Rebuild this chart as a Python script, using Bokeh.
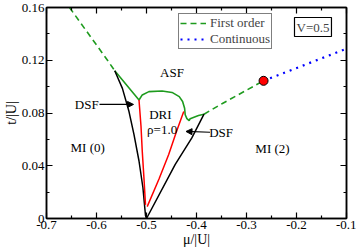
from bokeh.plotting import figure
from bokeh.models import (LinearAxis, FixedTicker, Range1d, Legend, LegendItem, Label,
                          Arrow, NormalHead)
from bokeh.core.properties import value
from bokeh.embed import file_html
from bokeh.resources import INLINE

# ---- data ----
first_order_left_x = [-0.654, -0.578, -0.5635]
first_order_left_y = [0.160, 0.120, 0.112]

asf_boundary_x = [-0.5635, -0.515, -0.5085, -0.4952, -0.4688, -0.4489, -0.4345, -0.4278,
                  -0.4238, -0.4226, -0.4192, -0.4147, -0.4127, -0.396, -0.385]
asf_boundary_y = [0.112, 0.0899, 0.0937, 0.0962, 0.0967, 0.0956, 0.0924, 0.0887,
                  0.0836, 0.0787, 0.0757, 0.0742, 0.0757, 0.0781, 0.0791]

first_order_right_x = [-0.385, -0.3472, -0.2659]
first_order_right_y = [0.0791, 0.0874, 0.1044]

continuous_x = [-0.2659, -0.1686, -0.1]
continuous_y = [0.1044, 0.1187, 0.1287]

tricritical_x = [-0.2659]
tricritical_y = [0.1044]

mi_left_x = [-0.5635, -0.5482, -0.535, -0.525, -0.515, -0.5072, -0.502, -0.5]
mi_left_y = [0.112, 0.0987, 0.0811, 0.0636, 0.0436, 0.0235, 0.0023, 0.0]

mi_right_x = [-0.5, -0.4425, -0.4093, -0.385]
mi_right_y = [0.0, 0.0411, 0.0611, 0.0791]

dri_left_x = [-0.515, -0.511, -0.5085, -0.505, -0.502]
dri_left_y = [0.0899, 0.070, 0.0511, 0.030, 0.0103]

dri_right_x = [-0.4986, -0.475, -0.4556, -0.44, -0.4255]
dri_right_y = [0.009, 0.030, 0.0486, 0.066, 0.0811]

x_ticks = [-0.7, -0.6, -0.5, -0.4, -0.3, -0.2, -0.1]
x_minor = [-0.65, -0.55, -0.45, -0.35, -0.25, -0.15]
x_labels = {-0.7: "-0.7", -0.6: "-0.6", -0.5: "-0.5", -0.4: "-0.4", -0.3: "-0.3",
            -0.2: "-0.2", -0.1: "-0.1"}
y_ticks = [0.0, 0.04, 0.08, 0.12, 0.16]
y_minor = [0.02, 0.06, 0.10, 0.14]
y_labels = {0.0: "0", 0.04: "0.04", 0.08: "0.08", 0.12: "0.12", 0.16: "0.16"}

region_labels = ["ASF", "DRI", "ρ=1.0", "MI (0)", "MI (2)"]
region_x = [-0.449, -0.4722, -0.4688, -0.6176, -0.248]
region_y = [0.111, 0.0787, 0.0674, 0.054, 0.0528]

dsf_labels = ["DSF", "DSF"]
dsf_x = [-0.6196, -0.3508]
dsf_y = [0.0865, 0.0654]
arrow_start_x = [-0.594, -0.373]
arrow_start_y = [0.0865, 0.0654]
arrow_end_x = [-0.526, -0.421]
arrow_end_y = [0.0865, 0.0660]

FONT = "Liberation Serif"
GREEN = "#1e9b1e"

p = figure(frame_width=300, frame_height=211, output_backend="svg", toolbar_location=None,
           x_range=Range1d(-0.7, -0.1), y_range=Range1d(0, 0.16),
           x_axis_label="μ/|U|", y_axis_label="t/|U|",
           min_border_left=40, min_border_right=10, min_border_top=7, min_border_bottom=30)
p.grid.visible = False
p.outline_line_color = "black"
p.outline_line_width = 1.5

# lines
l_fo = p.line(first_order_left_x, first_order_left_y, line_color=GREEN, line_width=1.6,
              line_dash="6 4")
p.line(first_order_right_x, first_order_right_y, line_color=GREEN, line_width=1.6,
       line_dash="6 4")
p.line(asf_boundary_x, asf_boundary_y, line_color=GREEN, line_width=1.6)
l_co = p.line(continuous_x, continuous_y, line_color="blue", line_width=2.2,
              line_dash="2 5")
p.line(mi_left_x, mi_left_y, line_color="black", line_width=1.5)
p.line(mi_right_x, mi_right_y, line_color="black", line_width=1.5)
p.line(dri_left_x, dri_left_y, line_color="red", line_width=1.5)
p.line(dri_right_x, dri_right_y, line_color="red", line_width=1.5)
p.scatter(tricritical_x, tricritical_y, size=9, fill_color="red", line_color="black",
          line_width=1)

# texts
p.text(x=region_x, y=region_y, text=region_labels, text_font=value(FONT),
       text_font_size="13px", text_align="center", text_baseline="middle", text_color="black")
p.text(x=dsf_x, y=dsf_y, text=dsf_labels, text_font=value(FONT),
       text_font_size="13px", text_align="center", text_baseline="middle", text_color="black")

for i in range(2):
    p.add_layout(Arrow(end=NormalHead(size=6, fill_color="black", line_color="black"),
                       x_start=arrow_start_x[i], y_start=arrow_start_y[i],
                       x_end=arrow_end_x[i], y_end=arrow_end_y[i],
                       line_color="black", line_width=1.2))

# axes
def style_axis(ax, ticks, minor, labels, show_labels=True):
    ax.ticker = FixedTicker(ticks=ticks, minor_ticks=minor)
    ax.major_tick_in = 6
    ax.major_tick_out = 0
    ax.minor_tick_in = 3
    ax.minor_tick_out = 0
    ax.axis_line_color = "black"
    ax.axis_line_width = 1.5
    ax.major_tick_line_width = 1.2
    ax.minor_tick_line_width = 1.2
    ax.major_label_text_font = FONT
    ax.major_label_text_font_size = "13px"
    ax.major_label_text_color = "black"
    if show_labels:
        ax.major_label_overrides = labels
    else:
        ax.major_label_overrides = {k: "" for k in labels}
        ax.major_label_text_font_size = "0px"
        ax.major_label_standoff = 0

style_axis(p.xaxis[0], x_ticks, x_minor, x_labels)
style_axis(p.yaxis[0], y_ticks, y_minor, y_labels)
p.xaxis[0].major_label_standoff = 2
p.yaxis[0].major_label_standoff = 2
for ax in (p.xaxis[0], p.yaxis[0]):
    ax.axis_label_text_font = FONT
    ax.axis_label_text_font_size = "14px"
    ax.axis_label_text_font_style = "normal"
    ax.axis_label_text_color = "black"
    ax.axis_label_standoff = 0

top = LinearAxis()
style_axis(top, x_ticks, x_minor, x_labels, show_labels=False)
p.add_layout(top, "above")
right = LinearAxis()
style_axis(right, y_ticks, y_minor, y_labels, show_labels=False)
p.add_layout(right, "right")

# legend
legend = Legend(items=[LegendItem(label="First order", renderers=[l_fo]),
                       LegendItem(label="Continuous", renderers=[l_co])],
                location=(132, 169), label_text_font=FONT, label_text_font_size="13px",
                label_height=12, glyph_height=12, glyph_width=26, label_standoff=4,
                padding=1, spacing=0, margin=0, border_line_color="black",
                border_line_width=1.2, background_fill_alpha=1)
p.add_layout(legend)

p.add_layout(Label(x=-0.1, y=0.16, x_offset=-52, y_offset=-29, text="V=0.5",
                   text_font=FONT, text_font_size="13px", border_line_color="black",
                   border_line_width=1.2, background_fill_color="white", padding=2))

open("out.html", "w").write(file_html(p, INLINE))
